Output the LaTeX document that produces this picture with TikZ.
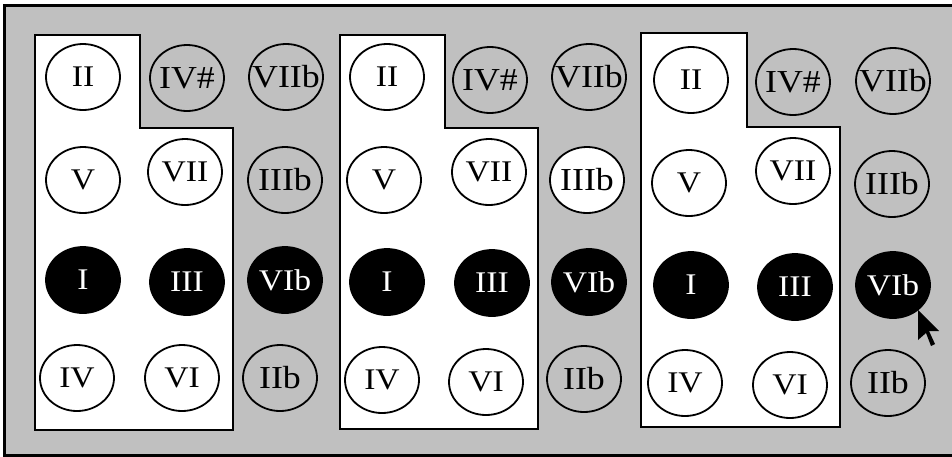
\documentclass[tikz,border=0pt]{standalone}
\usepackage{fontspec}
\setmainfont{Liberation Serif}
\newfontfamily\keyfont[FakeStretch=1.12]{Liberation Serif}
\usetikzlibrary{shapes.geometric}
\usetikzlibrary{positioning}

\definecolor{boardgray}{RGB}{192,192,192}
% zero-width label, so every key keeps its own size
\newcommand{\kl}[1]{\makebox[0pt]{#1}}

\begin{document}
\begin{tikzpicture}
        [x=1pt, y=-1pt,
         key/.style={ellipse, draw, line width=1.8pt, inner sep=0pt,
                     minimum width=74pt, minimum height=66pt,
                     font=\keyfont\fontsize{30}{32}\selectfont},
         inkey/.style={key, fill=white},
         outkey/.style={key, font=\keyfont\fontsize{32}{34}\selectfont},
         chordkey/.style={key, fill=black, text=white},
         panel/.style={draw, fill=white, line width=2.5pt}]
        \useasboundingbox (0,0) rectangle (952,456);
        \clip (0,0) rectangle (952,456);
        \fill [white] (0,0) rectangle (952,456);
        \draw [line width=3pt, fill=boardgray] (4.5,5) rectangle (975,455);

        % white scale areas
        \draw [panel] (35,35) -- (140,35) -- (140,128) -- (233,128) -- (233,430) -- (35,430) -- cycle;
        \draw [panel] (340,35) -- (445,35) -- (445,128) -- (538,128) -- (538,429) -- (340,429) -- cycle;
        \draw [panel] (641,33) -- (747,33) -- (747,127) -- (840,127) -- (840,427) -- (641,427) -- cycle;

        % first board
        \node [inkey] (iia) at (83,77) {\kl{II}};
        \node [outkey] (ivsa) at (187,78) {\kl{IV\#}};
        \node [outkey] (viiba) at (286,77) {\kl{VIIb}};
        \node [inkey] (va) at (83,180) {\kl{V}};
        \node [inkey] (viia) at (185,172) {\kl{VII}};
        \node [outkey] (iiiba) at (285,180) {\kl{IIIb}};
        \node [chordkey] (ia) at (83,280) {\kl{I}};
        \node [chordkey] (iiia) at (187,282) {\kl{III}};
        \node [chordkey] (viba) at (285,280) {\kl{VIb}};
        \node [inkey] (iva) at (77,378) {\kl{IV}};
        \node [inkey] (via) at (182,378) {\kl{VI}};
        \node [outkey] (iiba) at (280,378) {\kl{IIb}};

        % second board
        \node [inkey] (iib) at (387,77) {\kl{II}};
        \node [outkey] (ivsb) at (490,80) {\kl{IV\#}};
        \node [outkey] (viibb) at (589,77) {\kl{VIIb}};
        \node [inkey] (vb) at (384,180) {\kl{V}};
        \node [inkey] (viib) at (489,172) {\kl{VII}};
        \node [outkey, fill=white] (iiibb) at (587,180) {\kl{IIIb}};
        \node [chordkey] (ib) at (387,282) {\kl{I}};
        \node [chordkey] (iiib) at (492,283) {\kl{III}};
        \node [chordkey] (vibb) at (589,282) {\kl{VIb}};
        \node [inkey] (ivb) at (382,380) {\kl{IV}};
        \node [inkey] (vib) at (486,382) {\kl{VI}};
        \node [outkey] (iibb) at (584,379) {\kl{IIb}};

        % third board
        \node [inkey] (iic) at (691,80) {\kl{II}};
        \node [outkey] (ivsc) at (793,82) {\kl{IV\#}};
        \node [outkey] (viibc) at (893,81) {\kl{VIIb}};
        \node [inkey] (vc) at (689,183) {\kl{V}};
        \node [inkey] (viic) at (793,171) {\kl{VII}};
        \node [outkey] (iiibc) at (892,184) {\kl{IIIb}};
        \node [chordkey] (ic) at (691,285) {\kl{I}};
        \node [chordkey] (iiic) at (795,287) {\kl{III}};
        \node [chordkey] (vibc) at (893,285) {\kl{VIb}};
        \node [inkey] (ivc) at (685,383) {\kl{IV}};
        \node [inkey] (vic) at (790,385) {\kl{VI}};
        \node [outkey] (iibc) at (888,383) {\kl{IIb}};

        % mouse pointer
        \fill [black] (918,310) -- (918,340) -- (926,333) -- (931,346) -- (935,344)
            -- (929,331) -- (939,331) -- cycle;
    \end{tikzpicture}
\end{document}
